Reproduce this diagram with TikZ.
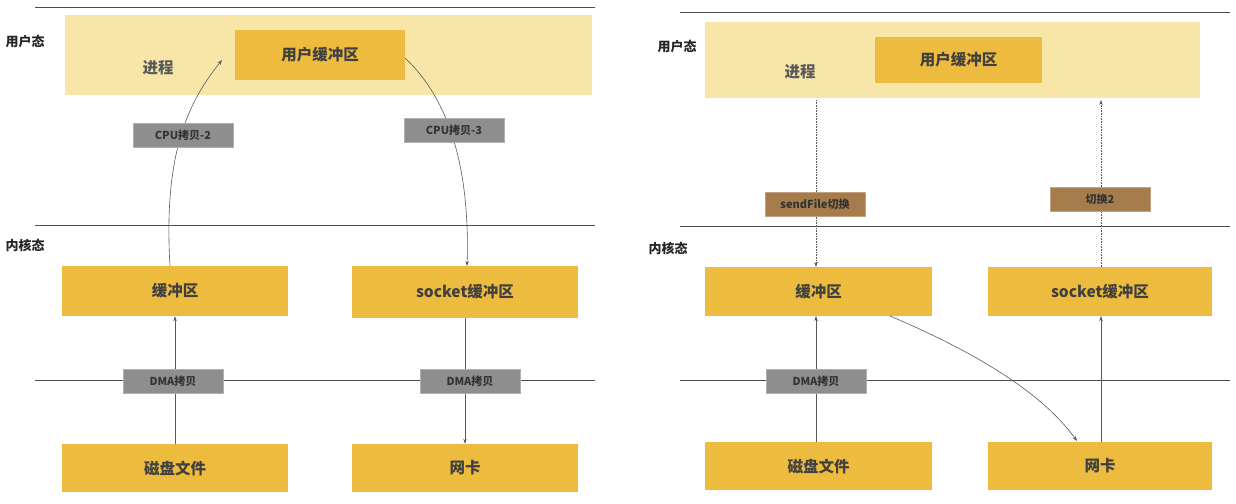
\documentclass[tikz,border=0pt]{standalone}
\usepackage{fontspec}
\setmainfont{Noto Sans CJK SC}
\usetikzlibrary{arrows.meta}
\definecolor{light}{HTML}{F8E6A8}
\definecolor{gold}{HTML}{EDBB3D}
\definecolor{gr}{HTML}{8E8E8E}
\definecolor{br}{HTML}{A67C4C}
\begin{document}
\begin{tikzpicture}[x=1pt,y=-1pt,
 box/.style={fill=gold,inner sep=0,font=\fontsize{15.5}{15.5}\selectfont\bfseries,text=black!75},
 tag/.style={fill=gr,draw=gr!70,inner sep=0,minimum width=100,minimum height=24,font=\fontsize{11}{11}\selectfont\bfseries,text=black!80},
 btag/.style={tag,fill=br,draw=br!70},
 sep/.style={draw=black!70,line width=0.7},
 arr/.style={draw=black!65,line width=0.6,-{Stealth[length=5pt,width=3.5pt]}},
 lbl/.style={font=\fontsize{13}{13}\selectfont\bfseries,text=black!85}]
\useasboundingbox (0,0) rectangle (1236,503);
% ---------- left ----------
\draw[sep] (35,7) -- (595,7);
\draw[sep] (35,225) -- (595,225);
\draw[sep] (35,380) -- (595,380);
\node[lbl] (ls1) at (25,42) {用户态};
\node[lbl] (lk1) at (25,245) {内核态};
\node[fill=light,minimum width=527,minimum height=80,inner sep=0] (lp) at (328.5,55) {};
\node[font=\fontsize{15.5}{15.5}\selectfont\bfseries,text=black!65] (lpj) at (158,68) {进程};
\node[box,minimum width=170,minimum height=50] (lu) at (320,55) {用户缓冲区};
\node[box,minimum width=226,minimum height=50] (lb) at (175,291) {缓冲区};
\node[box,minimum width=226,minimum height=52] (ls) at (465,292) {socket缓冲区};
\node[box,minimum width=226,minimum height=48] (ld) at (175,468) {磁盘文件};
\node[box,minimum width=226,minimum height=48] (ln) at (465,468) {网卡};
\coordinate (c2s) at (170,266); \coordinate (c2e) at (222,60);
\coordinate (c3s) at (405,58); \coordinate (c3e) at (467,266);
\draw[arr] (c2s) .. controls (163,150) and (190,100) .. (c2e);
\draw[arr] (c3s) .. controls (450,100) and (470,170) .. (c3e);
\draw[arr] (ld.north) -- (lb.south);
\draw[arr] (ls.south) -- (ln.north);
\node[tag] (t1) at (183,135) {CPU拷贝-2};
\node[tag] (t2) at (454,130) {CPU拷贝-3};
\node[tag] (t3) at (173,381) {DMA拷贝};
\node[tag] (t4) at (470,381) {DMA拷贝};
% ---------- right ----------
\draw[sep] (680,12) -- (1230,12);
\draw[sep] (680,226) -- (1230,226);
\draw[sep] (680,380) -- (1230,380);
\node[lbl] (rs1) at (677,47) {用户态};
\node[lbl] (rk1) at (668,248) {内核态};
\node[fill=light,minimum width=495,minimum height=76,inner sep=0] (rp) at (952.5,60) {};
\node[font=\fontsize{15.5}{15.5}\selectfont\bfseries,text=black!65] (rpj) at (800,72) {进程};
\node[box,minimum width=167,minimum height=46] (ru) at (958.5,60) {用户缓冲区};
\node[box,minimum width=227,minimum height=49] (rb) at (818.5,291.5) {缓冲区};
\node[box,minimum width=224,minimum height=49] (rsk) at (1100,291.5) {socket缓冲区};
\node[box,minimum width=227,minimum height=48] (rd) at (818.5,466) {磁盘文件};
\node[box,minimum width=224,minimum height=48] (rn) at (1100,466) {网卡};
\coordinate (d1s) at (816,100); \coordinate (d1e) at (816,267);
\coordinate (d2s) at (1101,267); \coordinate (d2e) at (1101,100);
\draw[arr,densely dotted] (d1s) -- (d1e);
\draw[arr,densely dotted] (d2s) -- (d2e);
\coordinate (a1) at (816,442); \coordinate (a1e) at (816,316);
\coordinate (a2) at (1101,442); \coordinate (a2e) at (1101,316);
\draw[arr] (a1) -- (a1e);
\draw[arr] (a2) -- (a2e);
\coordinate (cs) at (890,316); \coordinate (ce) at (1077,441);
\draw[arr] (cs) .. controls (970,350) and (1040,390) .. (ce);
\node[btag] (b1) at (815,204) {sendFile切换};
\node[btag] (b2) at (1100,199) {切换2};
\node[tag] (t5) at (816,381) {DMA拷贝};
\end{tikzpicture}
\end{document}
